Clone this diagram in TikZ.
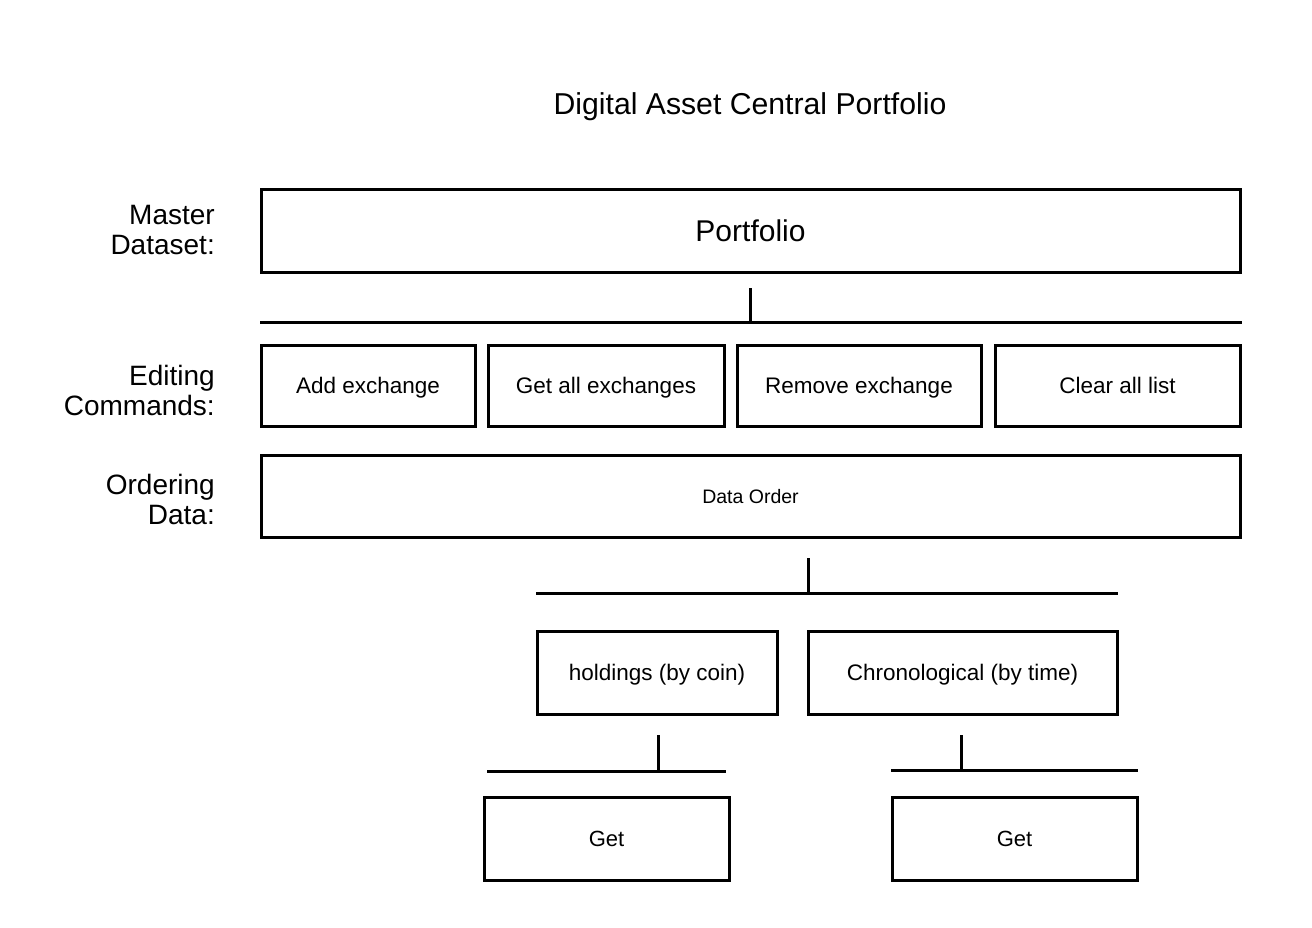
\documentclass[tikz,border=0pt]{standalone}
\usepackage{fontspec}
\setmainfont{Liberation Sans}
\begin{document}
\begin{tikzpicture}[x=1pt,y=-1pt,
  box/.style={draw=black, line width=3pt, rectangle, inner sep=0pt, anchor=center, text depth=0pt},
  ln/.style={draw=black, line width=3pt},
  lbl/.style={anchor=east, align=right, font=\fontsize{28}{30}\selectfont, inner sep=0pt},
  cmd/.style={font=\fontsize{22.5}{26}\selectfont, text height=16.1pt},
  small/.style={font=\fontsize{22}{26}\selectfont, text height=15.75pt}]
\useasboundingbox (0,0) rectangle (1312,928);
\node[font=\fontsize{30.2}{34}\selectfont, text height=21.6pt, text depth=0pt, inner sep=0pt] (title) at (750,104) {Digital Asset Central Portfolio};
% labels
\node[lbl] (l1) at (215,230) {Master\\Dataset:};
\node[lbl] (l2) at (215,390) {Editing\\Commands:};
\node[lbl] (l3) at (215,499) {Ordering\\Data:};
% boxes
\node[box, minimum width=979, minimum height=82, font=\fontsize{30}{34}\selectfont, text height=21.5pt] (portfolio) at (750.5,231) {Portfolio};
\node[box, cmd, minimum width=214, minimum height=81] (add) at (368,385.5) {Add exchange};
\node[box, cmd, minimum width=236, minimum height=81] (getall) at (606,385.5) {Get all exchanges};
\node[box, cmd, minimum width=244, minimum height=81] (remove) at (859,385.5) {Remove exchange};
\node[box, cmd, minimum width=245, minimum height=81] (clear) at (1117.5,385.5) {Clear all list};
\node[box, minimum width=979, minimum height=82, font=\fontsize{19.5}{22}\selectfont, text height=14pt] (order) at (750.5,496) {Data Order};
\node[box, cmd, minimum width=240, minimum height=83] (hold) at (657,672.5) {holdings (by coin)};
\node[box, cmd, minimum width=309, minimum height=83] (chrono) at (962.5,672.5) {Chronological (by time)};
\node[box, small, minimum width=245, minimum height=83] (get1) at (606.5,838.5) {Get};
\node[box, small, minimum width=245, minimum height=83] (get2) at (1014.5,838.5) {Get};
% connectors
\coordinate (a1) at (750,288); \coordinate (a2) at (750,322);
\coordinate (a3) at (260,322); \coordinate (a4) at (1242,322);
\draw[ln] (a1) -- (a2); \draw[ln] (a3) -- (a4);
\coordinate (b1) at (808,558); \coordinate (b2) at (808,593);
\coordinate (b3) at (536,593); \coordinate (b4) at (1118,593);
\draw[ln] (b1) -- (b2); \draw[ln] (b3) -- (b4);
\coordinate (c1) at (658,735); \coordinate (c2) at (658,771);
\coordinate (c3) at (487,771); \coordinate (c4) at (726,771);
\draw[ln] (c1) -- (c2); \draw[ln] (c3) -- (c4);
\coordinate (d1) at (961,735); \coordinate (d2) at (961,770);
\coordinate (d3) at (891,770); \coordinate (d4) at (1138,770);
\draw[ln] (d1) -- (d2); \draw[ln] (d3) -- (d4);
\end{tikzpicture}
\end{document}
